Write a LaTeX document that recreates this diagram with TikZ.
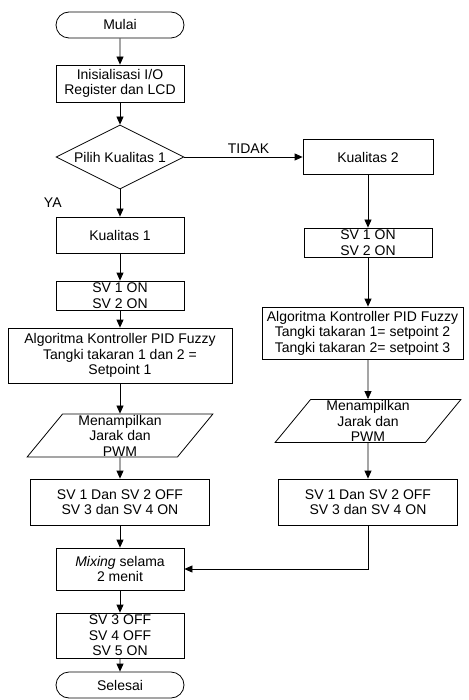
\documentclass[tikz,border=0pt]{standalone}
\usepackage{fontspec}
\setmainfont{Liberation Sans}
\usepackage{tikz}
\usetikzlibrary{shapes.geometric}
\usetikzlibrary{shapes.misc}
\usetikzlibrary{arrows.meta}

\begin{document}
\begin{tikzpicture}[
        x=1pt, y=-1pt,
        line width=0.8pt,
        >={Triangle[width=7pt,length=8pt]},
        every node/.style={font=\fontsize{14}{15.5}\selectfont, align=center, inner sep=0pt},
        term-node/.style={rounded rectangle, draw, minimum width=128, minimum height=26},
        proc-node/.style={rectangle, draw, minimum width=128, minimum height=36},
        dec-node/.style={diamond, draw, aspect=2, minimum width=128, minimum height=64},
        io-node/.style={trapezium, draw, trapezium left angle=58, trapezium right angle=122,
            trapezium stretches=true, minimum width=186, minimum height=43}
    ]
        \useasboundingbox (0, 0) rectangle (468, 700);

        \node[term-node] (mulai) at (120, 25) {Mulai};
        \node[proc-node, minimum height=37] (init) at (120, 83.5) {Inisialisasi I/O\\Register dan LCD};
        \node[dec-node] (pilih) at (120, 157) {Pilih Kualitas 1};
        \node[proc-node] (kual1) at (120, 235) {Kualitas 1};
        \node[proc-node, minimum height=29] (on-a) at (120, 295.5) {SV 1 ON\\SV 2 ON};
        \node[proc-node, minimum width=224, minimum height=55] (algo-a) at (120, 355.5) {Algoritma Kontroller PID Fuzzy\\Tangki takaran 1 dan 2 =\\Setpoint 1};
        \node[io-node] (tampil-a) at (120, 435.5) {Menampilkan\\Jarak dan\\PWM};
        \node[proc-node, minimum width=179, minimum height=46] (off-a) at (120, 502) {SV 1 Dan SV 2 OFF\\SV 3 dan SV 4 ON};
        \node[proc-node, minimum height=42] (mix) at (120, 569) {\textit{Mixing} selama\\2 menit};
        \node[proc-node, minimum height=45] (sv-off) at (120, 635.5) {SV 3 OFF\\SV 4 OFF\\SV 5 ON};
        \node[term-node] (selesai) at (120, 685) {Selesai};

        \node[proc-node, minimum width=130, minimum height=35] (kual2) at (368, 157) {Kualitas 2};
        \node[proc-node, minimum height=29] (on-b) at (368, 242.5) {SV 1 ON\\SV 2 ON};
        \node[proc-node, minimum width=201, minimum height=52] (algo-b) at (362.5, 333) {Algoritma Kontroller PID Fuzzy\\Tangki takaran 1= setpoint 2\\Tangki takaran 2= setpoint 3};
        \node[io-node] (tampil-b) at (368, 421) {Menampilkan\\Jarak dan\\PWM};
        \node[proc-node, minimum width=179, minimum height=46] (off-b) at (368, 502) {SV 1 Dan SV 2 OFF\\SV 3 dan SV 4 ON};

        \draw[->] (mulai) -- (init);
        \draw[->] (init) -- (pilih);
        \draw[->] (pilih) -- (kual1) node[midway, left=58pt] {YA};
        \draw[->] (pilih) -- (kual2) node[midway, above=3pt, xshift=5pt] {TIDAK};
        \draw[->] (kual1) -- (on-a);
        \draw[->] (on-a) -- (algo-a);
        \draw[->] (algo-a) -- (tampil-a);
        \draw[->] (tampil-a) -- (off-a);
        \draw[->] (off-a) -- (mix);
        \draw[->] (mix) -- (sv-off);
        \draw[->] (sv-off) -- (selesai);
        \draw[->] (kual2) -- (on-b);
        \draw[->] (on-b.south) -- (on-b.south |- algo-b.north);
        \draw[->] (algo-b.south -| tampil-b) -- (tampil-b);
        \draw[->] (tampil-b) -- (off-b);
        \draw[->] (off-b.south) |- (mix.east);
    \end{tikzpicture}
\end{document}
